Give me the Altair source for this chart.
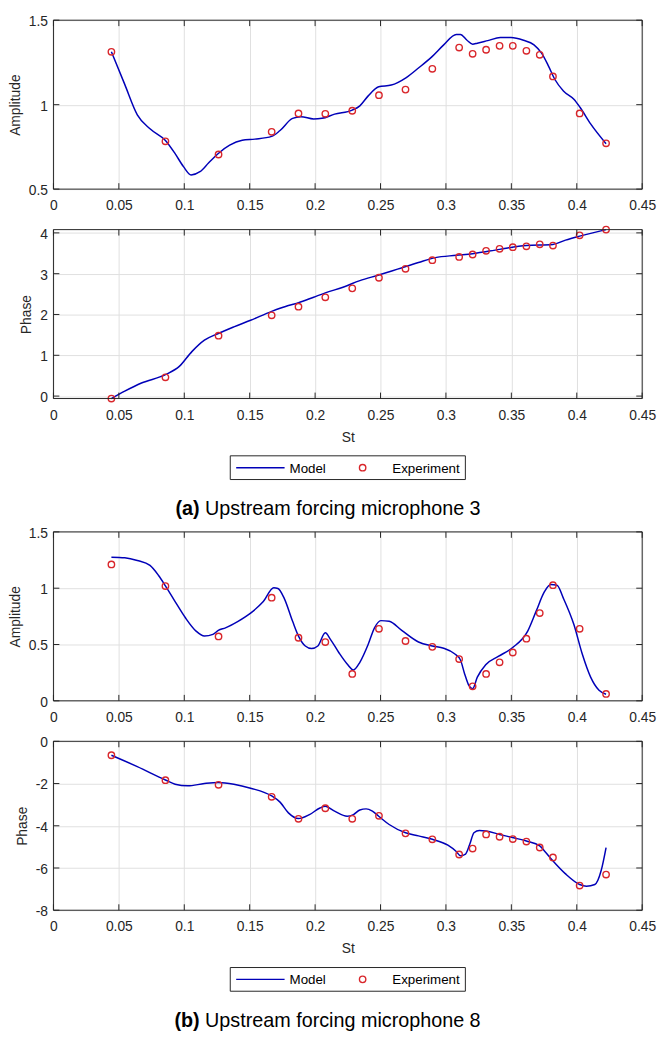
import altair as alt
import pandas as pd

# ---------------- data ----------------
x_ticks = [0, 0.05, 0.1, 0.15, 0.2, 0.25, 0.3, 0.35, 0.4, 0.45]

st_exp = [0.0443, 0.0856, 0.1262, 0.1668, 0.1873, 0.2078, 0.2284, 0.2488, 0.2691,
          0.2896, 0.3101, 0.3204, 0.3307, 0.3410, 0.3511, 0.3615, 0.3717, 0.3818,
          0.4022, 0.4224]

# (a) microphone 3
amp_a_exp = [1.313, 0.783, 0.705, 0.839, 0.948, 0.946, 0.964, 1.056, 1.089, 1.212,
             1.338, 1.301, 1.325, 1.348, 1.348, 1.319, 1.295, 1.167, 0.948, 0.771]
amp_a_st = [0.0443, 0.0545, 0.0641, 0.0738, 0.0856, 0.093, 0.0994, 0.1052, 0.112, 0.1187,
            0.126, 0.1347, 0.1443, 0.154, 0.1668, 0.1732, 0.1828, 0.1892, 0.1989, 0.2053,
            0.2149, 0.2284, 0.2342, 0.2406, 0.2486, 0.2582, 0.2694, 0.279, 0.2896, 0.2983,
            0.3079, 0.3111, 0.3159, 0.3204, 0.324, 0.332, 0.3416, 0.3497, 0.3593, 0.3673,
            0.3731, 0.3785, 0.3833, 0.3898, 0.3978, 0.4026, 0.4106, 0.4224]
amp_a_model = [1.313, 1.12, 0.94, 0.857, 0.788, 0.71, 0.633, 0.584, 0.603, 0.656,
               0.711, 0.76, 0.789, 0.796, 0.812, 0.847, 0.919, 0.929, 0.915, 0.919,
               0.944, 0.968, 0.993, 1.052, 1.106, 1.116, 1.159, 1.217, 1.286, 1.354,
               1.416, 1.416, 1.383, 1.358, 1.364, 1.379, 1.397, 1.397, 1.381, 1.354,
               1.305, 1.227, 1.149, 1.081, 1.032, 0.983, 0.886, 0.769]

ph_a_exp = [-0.06, 0.46, 1.48, 1.98, 2.19, 2.42, 2.64, 2.90, 3.12, 3.33,
            3.41, 3.47, 3.56, 3.61, 3.65, 3.67, 3.72, 3.69, 3.94, 4.08]
ph_a_st = [0.0443, 0.0545, 0.0673, 0.0856, 0.0962, 0.1058, 0.1154, 0.126, 0.1379, 0.1507,
           0.1668, 0.1796, 0.1873, 0.1989, 0.2078, 0.2213, 0.2342, 0.2486, 0.263, 0.279,
           0.2919, 0.3079, 0.3204, 0.341, 0.3615, 0.3817, 0.3914, 0.4022, 0.4224]
ph_a_model = [-0.06, 0.12, 0.32, 0.525, 0.727, 1.09, 1.37, 1.535, 1.697, 1.858,
              2.077, 2.22, 2.287, 2.424, 2.53, 2.667, 2.83, 2.966, 3.111, 3.273,
              3.394, 3.45, 3.49, 3.596, 3.693, 3.717, 3.822, 3.92, 4.08]

# (b) microphone 8
amp_b_exp = [1.211, 1.019, 0.572, 0.916, 0.560, 0.522, 0.239, 0.639, 0.531, 0.479,
             0.371, 0.129, 0.239, 0.342, 0.429, 0.552, 0.779, 1.027, 0.639, 0.061]
amp_b_st = [0.0443, 0.0545, 0.0641, 0.0738, 0.0802, 0.0856, 0.093, 0.101, 0.109, 0.1154,
            0.1219, 0.126, 0.1315, 0.1411, 0.1507, 0.1604, 0.1684, 0.1716, 0.1764, 0.1828,
            0.1873, 0.1925, 0.1973, 0.2021, 0.2078, 0.2117, 0.2181, 0.2245, 0.2293, 0.2342,
            0.2406, 0.2454, 0.2502, 0.2566, 0.2662, 0.279, 0.2896, 0.2983, 0.3063, 0.3111,
            0.3143, 0.3175, 0.3204, 0.324, 0.3304, 0.34, 0.351, 0.3625, 0.3689, 0.3753,
            0.3801, 0.3849, 0.3898, 0.3978, 0.4042, 0.4106, 0.417, 0.4224]
amp_b_model = [1.275, 1.27, 1.246, 1.202, 1.115, 1.021, 0.881, 0.735, 0.619, 0.575,
               0.59, 0.625, 0.648, 0.706, 0.779, 0.881, 1.004, 0.998, 0.91, 0.706,
               0.575, 0.487, 0.464, 0.487, 0.604, 0.546, 0.429, 0.327, 0.274, 0.342,
               0.502, 0.648, 0.712, 0.706, 0.625, 0.522, 0.487, 0.467, 0.42, 0.362,
               0.239, 0.137, 0.108, 0.21, 0.321, 0.394, 0.473, 0.619, 0.794, 0.969,
               1.033, 1.027, 0.91, 0.677, 0.415, 0.21, 0.093, 0.058]

ph_b_exp = [-0.66, -1.84, -2.06, -2.63, -3.67, -3.17, -3.67, -3.53, -4.36, -4.64,
            -5.36, -5.08, -4.41, -4.52, -4.63, -4.75, -5.03, -5.50, -6.83, -6.31]
ph_b_st = [0.0443, 0.0641, 0.0856, 0.093, 0.1026, 0.1154, 0.126, 0.1379, 0.1507, 0.1668,
           0.1732, 0.1796, 0.1873, 0.1957, 0.2037, 0.2078, 0.2149, 0.2245, 0.2293, 0.2342,
           0.239, 0.2438, 0.2486, 0.2566, 0.2691, 0.279, 0.2896, 0.3015, 0.3079, 0.3111,
           0.315, 0.3182, 0.3214, 0.3256, 0.3307, 0.341, 0.351, 0.3615, 0.3717, 0.3753,
           0.3817, 0.3914, 0.4022, 0.4074, 0.4138, 0.4186, 0.4224]
ph_b_model = [-0.66, -1.2, -1.83, -2.03, -2.11, -2.0, -1.95, -2.03, -2.22, -2.59,
              -2.88, -3.39, -3.66, -3.47, -3.16, -3.08, -3.31, -3.55, -3.47, -3.25,
              -3.2, -3.31, -3.55, -3.94, -4.33, -4.48, -4.64, -4.92, -5.22, -5.42,
              -5.34, -4.88, -4.33, -4.22, -4.25, -4.41, -4.56, -4.72, -4.95, -5.19,
              -5.66, -6.28, -6.78, -6.86, -6.78, -6.13, -5.03]

amp_a_ticks = [0.5, 1, 1.5]
ph_a_ticks = [0, 1, 2, 3, 4]
amp_b_ticks = [0, 0.5, 1, 1.5]
ph_b_ticks = [-8, -6, -4, -2, 0]

legend_labels = ["Model", "Experiment"]
captions = [("(a)", "Upstream forcing microphone 3"), ("(b)", "Upstream forcing microphone 8")]

# ---------------- style ----------------
W, H = 596, 171
FONT = "Liberation Sans, Arial, Helvetica, sans-serif"
AX = "#262626"
GRID = "#e0e0e0"
BLUE = "#0000b8"
RED = "#d9262b"
TL = 6  # inner tick length


def one():
    return pd.DataFrame({"k": [0]})


def panel(line_st, line_v, pts_v, ydom, yticks, ytitle, xtitle, legend=False, cap=None):
    xenc = alt.X("st:Q", scale=alt.Scale(domain=[0, 0.45], nice=False, zero=False),
                 axis=alt.Axis(values=x_ticks, format="~g", labelFlush=False, labelOverlap=False,
                               labelPadding=10, titlePadding=8, grid=True),
                 title=xtitle)
    yenc = alt.Y("v:Q", scale=alt.Scale(domain=ydom, nice=False, zero=False),
                 axis=alt.Axis(values=yticks, format="~g", labelPadding=6, titlePadding=6,
                               labelOffset=1.5, grid=True,
                               labelExpr="replace(datum.label, '\u2212', '-')"),
                 title=ytitle)
    df_line = pd.DataFrame({"st": line_st, "v": line_v})
    df_pts = pd.DataFrame({"st": st_exp, "v": pts_v})
    line = alt.Chart(df_line).mark_line(color=BLUE, strokeWidth=1.5, interpolate="monotone").encode(x=xenc, y=yenc)
    pts = alt.Chart(df_pts).mark_point(shape="circle", filled=False, color=RED, size=42,
                                       strokeWidth=1.4, opacity=1).encode(x=xenc, y=yenc)
    dfx = pd.DataFrame({"st": x_ticks})
    dfy = pd.DataFrame({"v": yticks})
    xt_b = alt.Chart(dfx).mark_rule(color=AX, strokeWidth=1).encode(x=xenc, y=alt.value(H - TL), y2=alt.value(H))
    xt_t = alt.Chart(dfx).mark_rule(color=AX, strokeWidth=1).encode(x=xenc, y=alt.value(0), y2=alt.value(TL))
    yt_l = alt.Chart(dfy).mark_rule(color=AX, strokeWidth=1).encode(y=yenc, x=alt.value(0), x2=alt.value(TL))
    yt_r = alt.Chart(dfy).mark_rule(color=AX, strokeWidth=1).encode(y=yenc, x=alt.value(W - TL), x2=alt.value(W))
    box = alt.Chart(one()).mark_rect(fillOpacity=0, stroke=AX, strokeWidth=1).encode(
        x=alt.value(0), x2=alt.value(W), y=alt.value(0), y2=alt.value(H))
    layers = [line, pts, xt_b, xt_t, yt_l, yt_r, box]
    if legend:
        ly = H + 70
        layers += [
            alt.Chart(one()).mark_rect(fill="white", stroke=AX, strokeWidth=1).encode(
                x=alt.value(179), x2=alt.value(417), y=alt.value(ly - 12), y2=alt.value(ly + 12)),
            alt.Chart(one()).mark_rule(color=BLUE, strokeWidth=1.5).encode(
                x=alt.value(185), x2=alt.value(234), y=alt.value(ly)),
            alt.Chart(one()).mark_text(text=legend_labels[0], align="left", baseline="alphabetic",
                                       font=FONT, fontSize=13.5, color="black").encode(
                x=alt.value(239), y=alt.value(ly + 5)),
            alt.Chart(one()).mark_point(shape="circle", filled=False, color=RED, size=42,
                                        strokeWidth=1.4, opacity=1).encode(
                x=alt.value(313), y=alt.value(ly)),
            alt.Chart(one()).mark_text(text=legend_labels[1], align="left", baseline="alphabetic",
                                       font=FONT, fontSize=13.5, color="black").encode(
                x=alt.value(343), y=alt.value(ly + 5)),
        ]
    if cap is not None:
        cy = H + 118
        layers += [
            alt.Chart(one()).mark_text(text=cap[0], align="right", baseline="alphabetic",
                                       font=FONT, fontSize=20, fontWeight="bold", color="black").encode(
                x=alt.value(148), y=alt.value(cy)),
            alt.Chart(one()).mark_text(text=cap[1], align="left", baseline="alphabetic",
                                       font=FONT, fontSize=20, color="black").encode(
                x=alt.value(153.5), y=alt.value(cy)),
        ]
    return alt.layer(*layers).properties(width=W, height=H)


amp_a = panel(amp_a_st, amp_a_model, amp_a_exp, [0.5, 1.5], amp_a_ticks, "Amplitude", "")
ph_a = panel(ph_a_st, ph_a_model, ph_a_exp, [-0.06, 4.08], ph_a_ticks, "Phase", "St",
             legend=True, cap=captions[0])
spacer = alt.Chart(one()).mark_text(text="").encode(x=alt.value(0), y=alt.value(0)).properties(width=W, height=53)
amp_b = panel(amp_b_st, amp_b_model, amp_b_exp, [0, 1.5], amp_b_ticks, "Amplitude", "")
ph_b = panel(ph_b_st, ph_b_model, ph_b_exp, [-8, 0], ph_b_ticks, "Phase", "St",
             legend=True, cap=captions[1])

chart = alt.vconcat(amp_a, ph_a, spacer, amp_b, ph_b, spacing=41, bounds="flush").properties(
    padding={"left": 0, "top": 0, "right": 0, "bottom": 0}
).configure_view(stroke="transparent").configure_axis(
    labelFont=FONT, titleFont=FONT, labelFontSize=14, titleFontSize=14,
    titleFontWeight="normal", labelColor=AX, titleColor=AX,
    gridColor=GRID, gridWidth=1, domain=False, ticks=False, tickSize=0
)

chart.save("out.html", embed_options={"renderer": "svg", "actions": False})
